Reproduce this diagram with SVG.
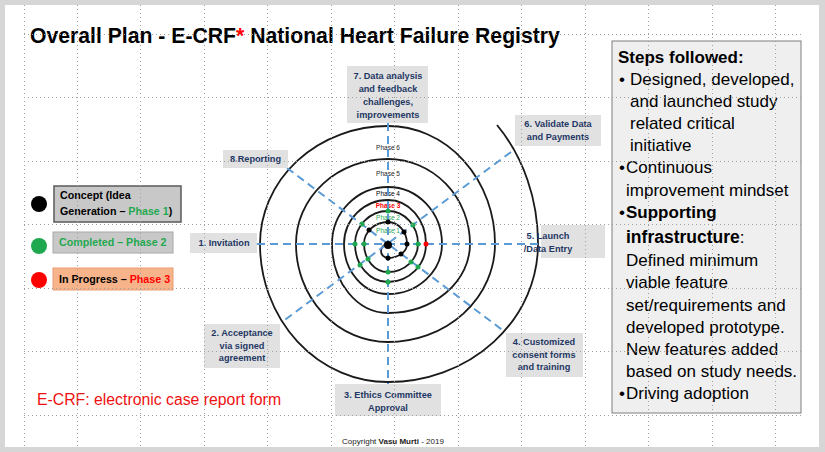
<svg xmlns="http://www.w3.org/2000/svg" width="825" height="452" viewBox="0 0 825 452">
<style>
text { font-family: "Liberation Sans", Arial, sans-serif; }
.lblbox { fill: #e1e1e1; }
.lbl { font-size: 9.2px; font-weight: bold; fill: #1f3864; text-anchor: middle; }
.ph { font-size: 6.5px; text-anchor: middle; }
.pan { font-size: 17px; fill: #000; }
.leg { font-size: 10.7px; font-weight: bold; }
.grid line { stroke: #a0a0a0; stroke-width: 1; stroke-dasharray: 1 3; }
.ray { stroke: #5b9bd5; stroke-width: 2; stroke-dasharray: 8 5; fill: none; }
.g { fill: #1fa84f; }
</style>
<rect x="0" y="0" width="825" height="452" fill="#d6d6d6"/>
<rect x="5" y="5" width="814" height="442" fill="#ffffff"/>

<g id="title">
<text x="30" y="43" font-size="21.2" font-weight="bold" fill="#000">Overall Plan - E-CRF<tspan fill="#ff0000">*</tspan> National Heart Failure Registry</text>
</g>

<g id="legend-concept">
<circle cx="39" cy="204" r="8" fill="#000"/>
<rect x="54" y="186" width="127" height="36" fill="#c8c8c8" stroke="#595959" stroke-width="1.5"/>
<text class="leg" x="60" y="199">Concept (Idea</text>
<text class="leg" x="60" y="215">Generation – <tspan fill="#1fa84f">Phase 1</tspan>)</text>
</g>
<g id="legend-completed">
<circle cx="39" cy="246" r="8" fill="#1fa84f"/>
<rect x="53" y="232" width="120" height="21" fill="#c8c8c8" stroke="#a8a8a8" stroke-width="1"/>
<text class="leg" x="59" y="246" fill="#1fa84f">Completed – Phase 2</text>
</g>
<g id="legend-progress">
<circle cx="39" cy="280" r="8" fill="#ff0000"/>
<rect x="53" y="268" width="120" height="22" fill="#f7b48a" stroke="#e99c73" stroke-width="1"/>
<text class="leg" x="59" y="283">In Progress – <tspan fill="#ff0000">Phase 3</tspan></text>
</g>

<g id="spiral">
<path fill="none" stroke="#1a1a1a" stroke-width="1.8" d="M388 244 A7 7 0 0 0 388 258 A19 14 0 0 0 407 244 A19 22 0 0 0 388 222 A24 22 0 0 0 364 244 A24 28 0 0 0 388 272 A30 28 0 0 0 418 244 A30 33 0 0 0 388 211 A33 33 0 0 0 355 244 A33 38 0 0 0 388 282 A38 38 0 0 0 426 244 A38 44 0 0 0 388 200 A44 44 0 0 0 344 244 A44 50 0 0 0 388 294 A54 50 0 0 0 442 244 A54 57 0 0 0 388 187 A56 57 0 0 0 332 244 A56 69 0 0 0 388 313 A82 69 0 0 0 470 244 A82 85 0 0 0 388 159 A92 85 0 0 0 296 244 A92 98 0 0 0 388 342 A107 98 0 0 0 495 244 A107 118 0 0 0 388 126 A128 118 0 0 0 260 244 A128 138 0 0 0 388 382 A150 138 0 0 0 538 244 A150 172 0 0 0 497 125"/>
<text class="ph" x="388" y="150" fill="#222">Phase 6</text>
<text class="ph" x="388" y="176" fill="#222">Phase 5</text>
<text class="ph" x="388" y="196" fill="#000">Phase 4</text>
<text class="ph" x="388" y="208" fill="#ff0000" font-weight="bold">Phase 3</text>
<text class="ph" x="388" y="219.5" fill="#1fa84f">Phase 2</text>
<text class="ph" x="388" y="232.5" fill="#1fa84f">Phase 1</text>
</g>

<g id="connectors">
<line class="ray" x1="388" y1="123" x2="388" y2="384"/>
<line class="ray" x1="257" y1="244" x2="541" y2="244"/>
<line class="ray" x1="287" y1="168" x2="505" y2="332"/>
<line class="ray" x1="511" y1="152" x2="282" y2="322"/>
</g>

<g id="phase-dots">
<circle cx="388" cy="245" r="4" fill="#000"/>
<g fill="#000">
<circle cx="388" cy="258" r="2.5"/><circle cx="401" cy="254" r="2.5"/><circle cx="407" cy="244" r="2.5"/>
<circle cx="404" cy="232" r="2.5"/><circle cx="388" cy="222" r="2.5"/><circle cx="369" cy="230" r="2.5"/>
</g>
<g class="g">
<circle cx="364" cy="244" r="2.5"/><circle cx="368" cy="259" r="2.5"/><circle cx="388" cy="272" r="2.5"/>
<circle cx="411" cy="262" r="2.5"/><circle cx="418" cy="244" r="2.5"/><circle cx="413" cy="225" r="2.5"/>
<circle cx="388" cy="211" r="2.5"/><circle cx="362" cy="224" r="2.5"/><circle cx="355" cy="244" r="2.5"/>
<circle cx="360" cy="265" r="2.5"/><circle cx="388" cy="282" r="2.5"/><circle cx="418" cy="267" r="2.5"/>
</g>
<circle cx="426" cy="244" r="2.5" fill="#ff0000"/>
</g>

<g id="step1">
<rect class="lblbox" x="190" y="233" width="67" height="20"/>
<text class="lbl" x="224" y="246">1. Invitation</text>
</g>
<g id="step2">
<rect class="lblbox" x="204" y="324" width="76" height="44"/>
<text class="lbl" x="242" y="336">2. Acceptance</text>
<text class="lbl" x="242" y="348.5">via signed</text>
<text class="lbl" x="242" y="361">agreement</text>
</g>
<g id="step3">
<rect class="lblbox" x="335" y="384" width="106" height="32"/>
<text class="lbl" x="388" y="398">3. Ethics Committee</text>
<text class="lbl" x="388" y="410.5">Approval</text>
</g>
<g id="step4">
<rect class="lblbox" x="506" y="333" width="77" height="44"/>
<text class="lbl" x="544" y="345">4. Customized</text>
<text class="lbl" x="544" y="357.5">consent forms</text>
<text class="lbl" x="544" y="370">and training</text>
</g>
<g id="step5">
<rect class="lblbox" x="541" y="225" width="64" height="33"/>
<text class="lbl" x="548" y="239" text-anchor="start">5. Launch</text>
<text class="lbl" x="548" y="252" text-anchor="start">/Data Entry</text>
</g>
<g id="step6">
<rect class="lblbox" x="515" y="115" width="86" height="31"/>
<text class="lbl" x="558" y="127">6. Validate Data</text>
<text class="lbl" x="558" y="140">and Payments</text>
</g>
<g id="step7">
<rect class="lblbox" x="347" y="66" width="81" height="57"/>
<text class="lbl" x="388" y="79">7. Data analysis</text>
<text class="lbl" x="388" y="92">and feedback</text>
<text class="lbl" x="388" y="105">challenges,</text>
<text class="lbl" x="388" y="117.5">improvements</text>
</g>
<g id="step8">
<rect class="lblbox" x="223" y="150" width="65" height="18"/>
<text class="lbl" x="255.5" y="162">8.Reporting</text>
</g>

<g id="steps-panel">
<rect x="612" y="41" width="189" height="372" fill="#efefef" stroke="#7f7f7f" stroke-width="1"/>
<text class="pan" x="618" y="63" font-size="17.5" font-weight="bold">Steps followed:</text>
<text class="pan" x="619" y="85">•</text>
<text class="pan" x="630" y="85">Designed, developed,</text>
<text class="pan" x="630" y="107">and launched study</text>
<text class="pan" x="630" y="129">related critical</text>
<text class="pan" x="630" y="151">initiative</text>
<text class="pan" x="619" y="173">•</text>
<text class="pan" x="626" y="173">Continuous</text>
<text class="pan" x="626" y="196">improvement mindset</text>
<text class="pan" x="619" y="218">•</text>
<text class="pan" x="626" y="218" font-size="17.5" font-weight="bold">Supporting</text>
<text class="pan" x="626" y="243"><tspan font-size="17.5" font-weight="bold">infrastructure</tspan>:</text>
<text class="pan" x="626" y="266">Defined minimum</text>
<text class="pan" x="626" y="288">viable feature</text>
<text class="pan" x="626" y="311">set/requirements and</text>
<text class="pan" x="626" y="333">developed prototype.</text>
<text class="pan" x="626" y="355">New features added</text>
<text class="pan" x="626" y="377">based on study needs.</text>
<text class="pan" x="619" y="399">•</text>
<text class="pan" x="626" y="399">Driving adoption</text>
</g>

<g id="footnote">
<text x="37" y="405" font-size="15.8" fill="#ee1111">E-CRF: electronic case report form</text>
</g>
<g id="copyright">
<text x="393" y="444" font-size="8" fill="#222" text-anchor="middle">Copyright <tspan font-weight="bold">Vasu Murti</tspan> - 2019</text>
</g>

<g class="grid">
<line x1="24.5" y1="5" x2="24.5" y2="447"/>
<line x1="77.5" y1="5" x2="77.5" y2="447"/>
<line x1="140.5" y1="5" x2="140.5" y2="447"/>
<line x1="204.5" y1="5" x2="204.5" y2="447"/>
<line x1="267.5" y1="5" x2="267.5" y2="447"/>
<line x1="331.5" y1="5" x2="331.5" y2="447"/>
<line x1="394.5" y1="5" x2="394.5" y2="447"/>
<line x1="458.5" y1="5" x2="458.5" y2="447"/>
<line x1="521.5" y1="5" x2="521.5" y2="447"/>
<line x1="585.5" y1="5" x2="585.5" y2="447"/>
<line x1="648.5" y1="5" x2="648.5" y2="447"/>
<line x1="712.5" y1="5" x2="712.5" y2="447"/>
<line x1="775.5" y1="5" x2="775.5" y2="447"/>
<line x1="24" y1="34.5" x2="803" y2="34.5"/>
<line x1="24" y1="97.5" x2="803" y2="97.5"/>
<line x1="24" y1="161.5" x2="803" y2="161.5"/>
<line x1="24" y1="224.5" x2="803" y2="224.5"/>
<line x1="24" y1="288.5" x2="803" y2="288.5"/>
<line x1="24" y1="351.5" x2="803" y2="351.5"/>
<line x1="24" y1="415.5" x2="803" y2="415.5"/>
</g>
</svg>
